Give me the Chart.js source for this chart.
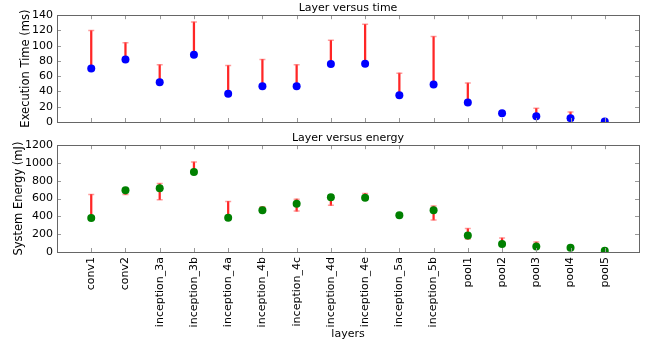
<!DOCTYPE html>
<html>
<head>
<meta charset="utf-8">
<script src="https://cdn.jsdelivr.net/npm/chart.js@4/dist/chart.umd.min.js"></script>
<style>
  body { margin: 0; background: #fff; }
  .box { position: absolute; left: 0; width: 649px; }
  #top { top: 0; height: 130px; }
  #bottom { top: 130px; height: 213px; }
</style>
</head>
<body>
<div class="box" id="top"><canvas id="timeChart"></canvas></div>
<div class="box" id="bottom"><canvas id="energyChart"></canvas></div>
<script>
// layer names along the x axis
const layers = ['conv1', 'conv2', 'inception_3a', 'inception_3b', 'inception_4a', 'inception_4b',
    'inception_4c', 'inception_4d', 'inception_4e', 'inception_5a', 'inception_5b',
    'pool1', 'pool2', 'pool3', 'pool4', 'pool5'];

// execution time (ms): mean and error range
const timeMean = [70, 82, 52, 88, 37, 47, 47, 76, 76.5, 35, 49, 25.5, 11.5, 7.5, 5, 0.5];
const timeLow  = [70, 82, 52, 88, 37, 47, 47, 76, 76.5, 35, 49, 25.5, null, 7.5, 5, null];
const timeHigh = [120, 104, 75, 131, 74, 82, 75, 107, 128, 64, 112, 51, null, 18, 13, null];

// system energy (mJ): mean and error range
const energyMean = [382, 693, 717, 899, 386, 468, 542, 614, 609, 412, 468, 185, 89, 63, 48, 15];
const energyLow  = [382, 647, 587, 899, 386, 455, 460, 524, 609, null, 360, 145, 89, 63, null, null];
const energyHigh = [647, 700, 769, 1010, 568, 508, 594, 620, 658, null, 516, 263, 156, 111, null, null];

const timeTicks = [0, 140, 20];
const energyTicks = [0, 1200, 200];

const FONT = 'DejaVu Sans';
const SIZE = 11;

// frame plus inward tick marks, matplotlib style
const framePlugin = {
    id: 'frame',
    afterDraw(chart) {
        const { ctx, chartArea: a, scales: { x, y } } = chart;
        ctx.save();
        ctx.lineWidth = 1;
        ctx.strokeStyle = '#999';
        ctx.beginPath();
        x.ticks.forEach(t => {
            const px = Math.round(x.getPixelForValue(t.value)) + 0.5;
            ctx.moveTo(px, a.bottom); ctx.lineTo(px, a.bottom - 4);
            ctx.moveTo(px, a.top); ctx.lineTo(px, a.top + 4);
        });
        y.ticks.forEach(t => {
            const py = Math.round(y.getPixelForValue(t.value)) + 0.5;
            ctx.moveTo(a.left, py); ctx.lineTo(a.left + 4, py);
            ctx.moveTo(a.right, py); ctx.lineTo(a.right - 4, py);
        });
        ctx.stroke();
        ctx.strokeStyle = '#666';
        ctx.strokeRect(Math.round(a.left) + 0.5, Math.round(a.top) + 0.5,
            Math.round(a.right - a.left), Math.round(a.bottom - a.top));
        ctx.restore();
    }
};

function makeChart(id, opt) {
    const bars = [], caps = [], pts = [];
    layers.forEach((_, i) => {
        pts.push({ x: i, y: opt.mean[i] });
        if (opt.low[i] != null) {
            bars.push({ x: i, y: [opt.low[i], opt.high[i]] });
            caps.push({ x: i, y: opt.low[i] }, { x: i, y: opt.high[i] });
        }
    });
    return new Chart(document.getElementById(id), {
        type: 'scatter',
        data: {
            datasets: [
                { type: 'bar', data: bars, backgroundColor: 'rgba(255,0,0,0.85)', barThickness: 1.6, order: 3 },
                { data: caps, pointStyle: 'line', pointRadius: 3, pointHoverRadius: 3,
                  borderColor: 'rgba(255,90,90,0.6)', borderWidth: 1.5, order: 2 },
                { data: pts, pointRadius: 4, pointHoverRadius: 4, backgroundColor: opt.color,
                  borderWidth: 0, order: 1 }
            ]
        },
        options: {
            responsive: true,
            maintainAspectRatio: false,
            animation: false,
            events: [],
            layout: { padding: { left: 0, right: 10, top: 0, bottom: opt.padBottom } },
            plugins: {
                legend: { display: false },
                tooltip: { enabled: false }
            },
            scales: {
                x: {
                    type: 'linear', min: -1, max: 16, offset: false,
                    afterBuildTicks: s => { s.ticks = layers.map((_, i) => ({ value: i })); },
                    afterFit: s => {
                        s.height = opt.xHeight;
                        s.paddingLeft = 0; s.paddingRight = 0;
                    },
                    ticks: { display: opt.showLabels, autoSkip: false, minRotation: 90, maxRotation: 90,
                        callback: v => layers[v], color: '#000', padding: 5,
                        font: { family: FONT, size: SIZE } },
                    grid: { display: false, drawTicks: false },
                    border: { display: false },
                    title: { display: opt.showLabels, text: 'layers', color: '#000',
                        padding: { top: 0, bottom: 2 }, font: { family: FONT, size: SIZE } }
                },
                // top axis only carries the subplot title
                x2: {
                    type: 'linear', position: 'top',
                    ticks: { display: false },
                    grid: { display: false, drawTicks: false },
                    border: { display: false },
                    title: { display: true, text: opt.title, color: '#000',
                        padding: { top: 2, bottom: 0 }, font: { family: FONT, size: SIZE } }
                },
                y: {
                    min: opt.ticks[0], max: opt.ticks[1],
                    afterFit: s => { s.width = 57; s.paddingTop = 0; s.paddingBottom = 0; },
                    ticks: { stepSize: opt.ticks[2], autoSkip: false, color: '#000', padding: 4,
                        callback: v => String(v), font: { family: FONT, size: SIZE } },
                    grid: { display: false, drawTicks: false },
                    border: { display: false },
                    title: { display: true, text: opt.yTitle, color: '#000',
                        padding: { top: opt.yTitlePad, bottom: 0 }, font: { family: FONT, size: 11.5 } }
                }
            }
        },
        plugins: [framePlugin]
    });
}

makeChart('timeChart', {
    title: 'Layer versus time', yTitle: 'Execution Time (ms)', yTitlePad: 19,
    mean: timeMean, low: timeLow, high: timeHigh, color: '#0000ff',
    ticks: timeTicks, showLabels: false, xHeight: 0, padBottom: 8
});

makeChart('energyChart', {
    title: 'Layer versus energy', yTitle: 'System Energy (mJ)', yTitlePad: 12,
    mean: energyMean, low: energyLow, high: energyHigh, color: '#008000',
    ticks: energyTicks, showLabels: true, xHeight: 91, padBottom: 0
});
</script>
</body>
</html>
